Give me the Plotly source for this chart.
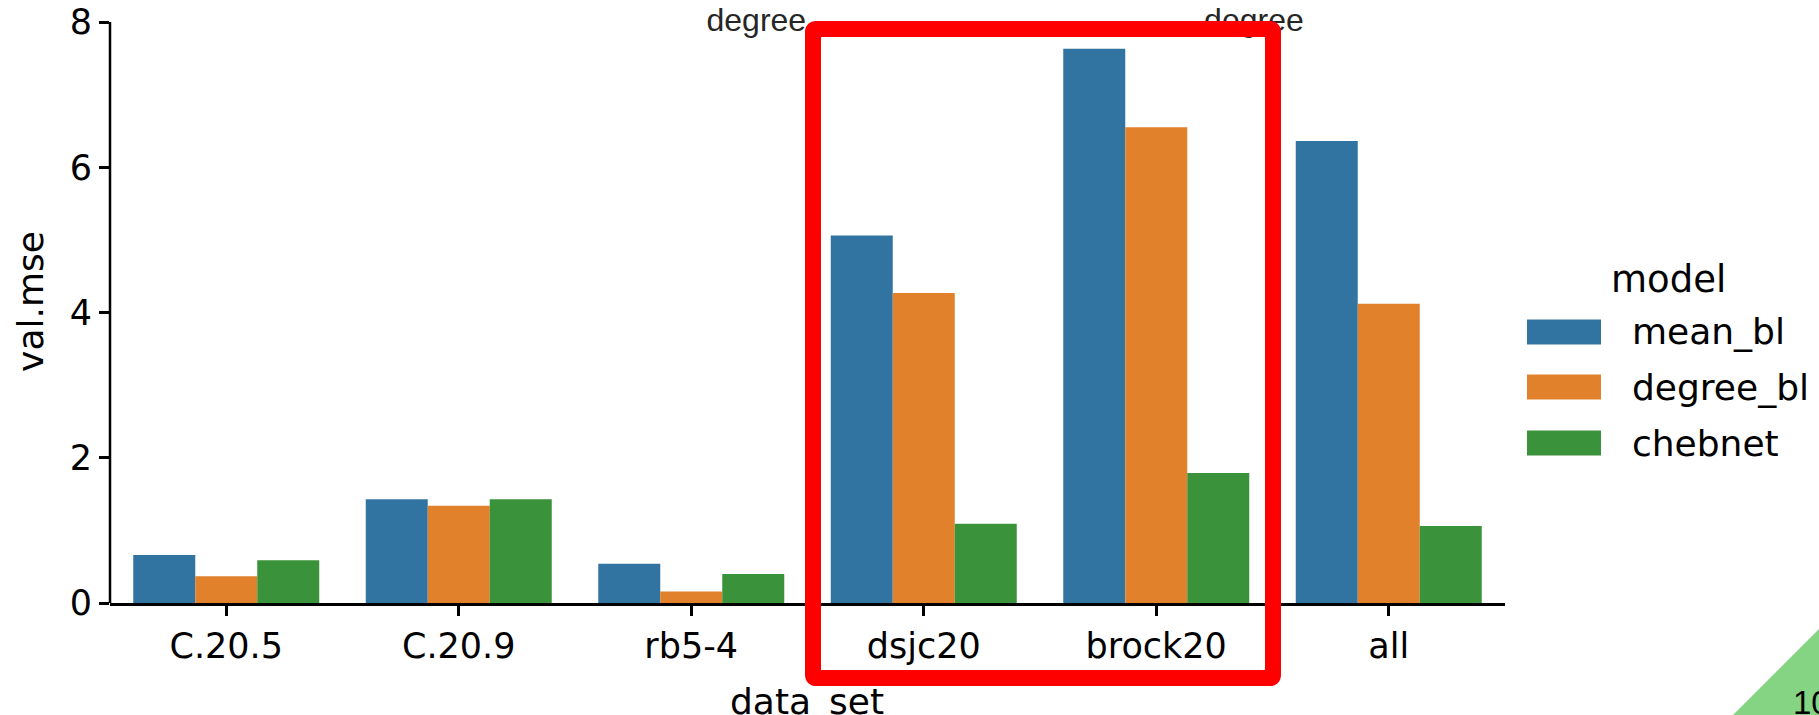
import plotly.graph_objects as go

# ---------------- data ----------------
categories = ["C.20.5", "C.20.9", "rb5-4", "dsjc20", "brock20", "all"]
mean_bl = [0.66, 1.43, 0.54, 5.06, 7.63, 6.36]
degree_bl = [0.37, 1.34, 0.16, 4.27, 6.55, 4.12]
chebnet = [0.59, 1.43, 0.40, 1.09, 1.79, 1.06]
models = ["mean_bl", "degree_bl", "chebnet"]
series = [mean_bl, degree_bl, chebnet]
colors = ["#3274a1", "#e1812c", "#3a923a"]
y_ticks = [0, 2, 4, 6, 8]
overlay_words = ["degree", "degree"]
overlay_x = [2.28, 4.42]          # positions on the category index scale
page_number = "10"
x_title = "data_set"
y_title = "val.mse"

# ---------------- layout geometry (pixels) ----------------
W, H = 1819, 715
L, R, T, B = 110, 314, 0, 112
pw, ph = W - L - R, H - T - B
Y_TOP_PX = 22                       # pixel row of y = 8
y_max_axis = 8 * ph / (ph - Y_TOP_PX)


def px(x):
    return (x - L) / pw


def py(y):
    return (H - B - y) / ph


FONT = "DejaVu Sans"

fig = go.Figure()
for name, vals, col in zip(models, series, colors):
    fig.add_trace(go.Bar(x=categories, y=vals, name=name, marker_color=col,
                         marker_line_width=0, showlegend=False))

# overlaid "degree" words (under the red frame)
fig.add_trace(go.Scatter(x=overlay_x, y=[7.98, 7.98], mode="text", text=overlay_words,
                         textfont=dict(family="Liberation Sans", size=32, color="#262626"),
                         xaxis="x2", yaxis="y", cliponaxis=False, showlegend=False,
                         hoverinfo="skip"))

fig.update_layout(
    width=W, height=H,
    margin=dict(l=L, r=R, t=T, b=B, autoexpand=False),
    plot_bgcolor="white", paper_bgcolor="white",
    barmode="group", bargap=0.2, bargroupgap=0,
    font=dict(family=FONT, size=35, color="black"),
    xaxis=dict(type="category", categoryorder="array", categoryarray=categories,
               range=[-0.5, 5.5], showline=True, linecolor="black", linewidth=2.5,
               ticks="outside", ticklen=10, tickwidth=2.5, tickcolor="black",
               showgrid=False, zeroline=False,
               tickfont=dict(family=FONT, size=35, color="black")),
    xaxis2=dict(overlaying="x", range=[-0.5, 5.5], visible=False),
    yaxis=dict(range=[0, y_max_axis], tickvals=y_ticks, showline=False,
               ticks="outside", ticklen=10, tickwidth=2.5,
               tickcolor="black", showgrid=False, zeroline=False,
               tickfont=dict(family=FONT, size=35, color="black"),
               title=dict(text=y_title, font=dict(family=FONT, size=36, color="black"),
                          standoff=15)),
)

shapes = []
annotations = []

# x axis title placed by hand (sits partly below the page edge, like the reference)
annotations.append(dict(text=x_title, x=px(807), y=py(701), xref="paper", yref="paper",
                        showarrow=False, xanchor="center", yanchor="middle",
                        font=dict(family=FONT, size=36, color="black")))

# y spine running from 0 to 8 only
shapes.append(dict(type="line", xref="paper", yref="y", x0=0, x1=0, y0=0, y1=8,
                   line=dict(color="black", width=2.5), layer="above"))

# legend (drawn by hand to match the large patches)
annotations.append(dict(text="model", x=px(1668), y=py(279), xref="paper", yref="paper",
                        showarrow=False, xanchor="center", yanchor="middle",
                        font=dict(family=FONT, size=37, color="black")))
row_y = [332, 387, 443]
for name, col, yy in zip(models, colors, row_y):
    shapes.append(dict(type="rect", xref="paper", yref="paper",
                       x0=px(1527), x1=px(1601), y0=py(yy - 12.5), y1=py(yy + 12.5),
                       fillcolor=col, line=dict(width=0)))
    annotations.append(dict(text=name, x=px(1630), y=py(yy), xref="paper", yref="paper",
                            showarrow=False, xanchor="left", yanchor="middle",
                            font=dict(family=FONT, size=36, color="black")))

# red highlight frame with slightly rounded corners
l0, r0, t0, b0, rr = 813, 1273, 29, 678, 3
path = (f"M{px(l0 + rr)},{py(t0)} L{px(r0 - rr)},{py(t0)} "
        f"Q{px(r0)},{py(t0)} {px(r0)},{py(t0 + rr)} "
        f"L{px(r0)},{py(b0 - rr)} Q{px(r0)},{py(b0)} {px(r0 - rr)},{py(b0)} "
        f"L{px(l0 + rr)},{py(b0)} Q{px(l0)},{py(b0)} {px(l0)},{py(b0 - rr)} "
        f"L{px(l0)},{py(t0 + rr)} Q{px(l0)},{py(t0)} {px(l0 + rr)},{py(t0)} Z")
shapes.append(dict(type="path", xref="paper", yref="paper", path=path,
                   line=dict(color="#ff0000", width=16), fillcolor="rgba(0,0,0,0)"))

# green corner triangle with page number
tri = (f"M{px(1732)},{py(716)} L{px(1820)},{py(628)} L{px(1820)},{py(716)} Z")
shapes.append(dict(type="path", xref="paper", yref="paper", path=tri,
                   fillcolor="#84d484", line=dict(width=0)))
annotations.append(dict(text=page_number, x=px(1791), y=py(702), xref="paper", yref="paper",
                        showarrow=False, xanchor="left", yanchor="middle",
                        font=dict(family="Liberation Sans", size=33, color="black")))

fig.update_layout(shapes=shapes, annotations=annotations)
fig.write_html("out.html", config={"displayModeBar": False},
               post_script="document.body.style.margin='0px';document.body.style.overflow='hidden';")
